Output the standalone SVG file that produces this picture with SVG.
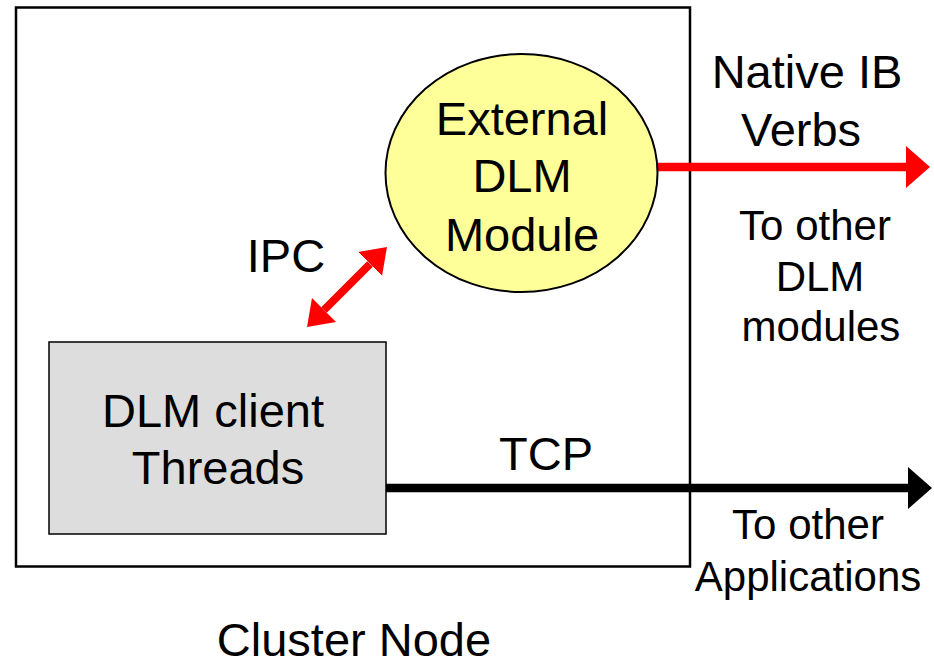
<svg xmlns="http://www.w3.org/2000/svg" width="934" height="667" viewBox="0 0 934 667">
<style>
text{font-family:"Liberation Sans",Arial,sans-serif;fill:#000;text-anchor:middle}
.l{font-size:47px}
.s{font-size:42px}
</style>
<defs>
<marker id="ar" markerUnits="userSpaceOnUse" markerWidth="26" markerHeight="42" refX="0" refY="21" orient="auto"><path d="M0,0 L24,21 L0,42 Z" fill="#ff0000"/></marker>
<marker id="ab" markerUnits="userSpaceOnUse" markerWidth="26" markerHeight="42" refX="0" refY="21" orient="auto"><path d="M0,0 L24,21 L0,42 Z" fill="#000"/></marker>
<marker id="ai" markerUnits="userSpaceOnUse" markerWidth="26" markerHeight="34" refX="0" refY="17" orient="auto-start-reverse"><path d="M0,0 L24,17 L0,34 Z" fill="#ff0000"/></marker>
</defs>
<g id="cluster-node">
<rect x="16" y="7.5" width="674" height="559" fill="#fff" stroke="#000" stroke-width="2.5"/>
<text class="l" x="354" y="656">Cluster Node</text>
</g>
<g id="connectors">
<line x1="657" y1="167" x2="906" y2="167" stroke="#ff0000" stroke-width="8.5" marker-end="url(#ar)"/>
<line x1="386" y1="488" x2="908" y2="488" stroke="#000" stroke-width="8.5" marker-end="url(#ab)"/>
<line x1="324" y1="310" x2="370" y2="264" stroke="#ff0000" stroke-width="8" marker-start="url(#ai)" marker-end="url(#ai)"/>
</g>
<g id="external-dlm">
<ellipse cx="521.5" cy="173" rx="136" ry="119" fill="#ffff99" stroke="#000" stroke-width="2"/>
<text class="l" x="522" y="135">External</text>
<text class="l" x="522" y="192">DLM</text>
<text class="l" x="522" y="251">Module</text>
</g>
<g id="dlm-client">
<rect x="49" y="342" width="337" height="192" fill="#dddddd" stroke="#000" stroke-width="1.5"/>
<text class="l" x="213" y="427">DLM client</text>
<text class="l" x="218" y="484">Threads</text>
</g>
<g id="labels">
<text class="l" x="807" y="88">Native IB</text>
<text class="l" x="801" y="146">Verbs</text>
<text class="s" x="815" y="240">To other</text>
<text class="s" x="820" y="291">DLM</text>
<text class="s" x="821" y="341">modules</text>
<text class="l" x="286" y="272">IPC</text>
<text class="l" x="546" y="470">TCP</text>
<text class="s" x="808" y="539">To other</text>
<text class="s" x="808" y="591">Applications</text>
</g>
</svg>
